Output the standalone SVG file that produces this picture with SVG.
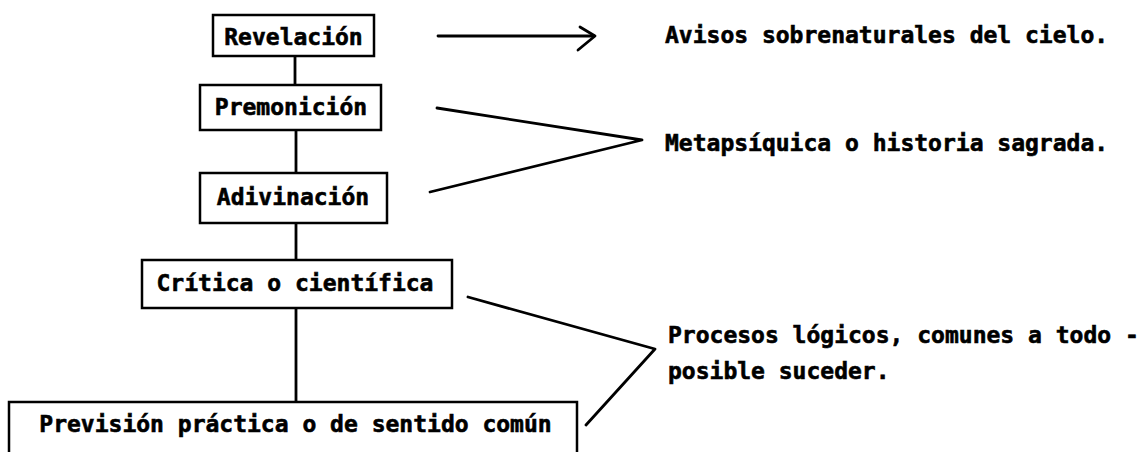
<svg xmlns="http://www.w3.org/2000/svg" width="1140" height="452" viewBox="0 0 1140 452">
<style>
.box{fill:#fff;stroke:#000;stroke-width:2.5}
.ln{fill:none;stroke:#000;stroke-width:2.8;stroke-linecap:round;stroke-linejoin:round}
.t{font-family:"DejaVu Sans Mono","Liberation Mono",monospace;font-weight:bold;font-size:23px;fill:#000;stroke:#000;stroke-width:0.6}
</style>
<rect width="1140" height="452" fill="#fff"/>
<g id="connectors">
<line class="ln" x1="295" y1="56" x2="295" y2="85"/>
<line class="ln" x1="296" y1="130" x2="296" y2="173"/>
<line class="ln" x1="296" y1="223" x2="296" y2="260"/>
<line class="ln" x1="296" y1="308" x2="296" y2="402"/>
<line class="ln" x1="438" y1="36" x2="594" y2="36"/>
<polyline class="ln" points="580,27 595,36 578,50"/>
<polyline class="ln" points="437,108 642,140 430,192"/>
<polyline class="ln" points="468,297 655,349 586,425"/>
</g>
<g id="n-revelacion">
<rect class="box" x="213" y="15" width="161" height="41"/>
<text class="t" x="293.5" y="45" text-anchor="middle">Revelación</text>
</g>
<g id="n-premonicion">
<rect class="box" x="200" y="85" width="181" height="45"/>
<text class="t" x="291" y="115" text-anchor="middle">Premonición</text>
</g>
<g id="n-adivinacion">
<rect class="box" x="200" y="173" width="187" height="50"/>
<text class="t" x="293" y="205" text-anchor="middle">Adivinación</text>
</g>
<g id="n-critica">
<rect class="box" x="142" y="260" width="310" height="48"/>
<text class="t" x="295" y="291" text-anchor="middle">Crítica o científica</text>
</g>
<g id="n-prevision">
<path class="box" d="M9,460 V402 H577 V460"/>
<text class="t" x="295.5" y="432" text-anchor="middle">Previsión práctica o de sentido común</text>
</g>
<g id="labels">
<text class="t" x="665" y="43">Avisos sobrenaturales del cielo.</text>
<text class="t" x="665" y="151">Metapsíquica o historia sagrada.</text>
<text class="t" x="668" y="343">Procesos lógicos, comunes a todo -</text>
<text class="t" x="668" y="379">posible suceder.</text>
</g>
</svg>
